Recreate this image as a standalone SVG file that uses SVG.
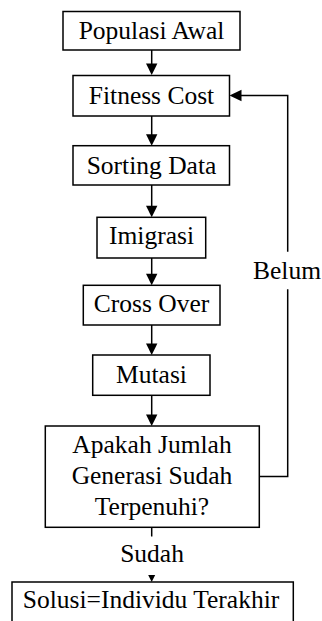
<svg xmlns="http://www.w3.org/2000/svg" width="322" height="621" viewBox="0 0 322 621">
<style>
.box{fill:#fff;stroke:#000;stroke-width:1.5}
.lbl{font-family:'Liberation Serif','Times New Roman',Tinos,serif;font-size:25.5px;fill:#000;text-anchor:middle}
.con{fill:none;stroke:#000;stroke-width:1.5}
.ah{fill:#000}
</style>
<g id="connectors">
<path class="con" d="M151.7,50 V64"/><path class="ah" d="M146,63.5 L157.4,63.5 L151.7,75 z"/>
<path class="con" d="M151.7,116 V135"/><path class="ah" d="M146,134.2 L157.4,134.2 L151.7,145.7 z"/>
<path class="con" d="M151.7,185 V206"/><path class="ah" d="M146,205.8 L157.4,205.8 L151.7,217.3 z"/>
<path class="con" d="M151.7,258 V274"/><path class="ah" d="M146,273.8 L157.4,273.8 L151.7,285.3 z"/>
<path class="con" d="M151.7,325 V344"/><path class="ah" d="M146,343.5 L157.4,343.5 L151.7,355 z"/>
<path class="con" d="M151.7,395.3 V415"/><path class="ah" d="M146,414.5 L157.4,414.5 L151.7,426 z"/>
<path class="con" d="M151.7,527.3 V536.5"/>
<path class="ah" d="M148.2,575 L155.2,575 L151.7,582 z"/>
<path class="con" d="M259.3,476.5 H287.7 V289.3"/>
<path class="con" d="M287.7,251.7 V95.5 H240"/><path class="ah" d="M241.5,89.8 L241.5,101.2 L229.5,95.5 z"/>
<text class="lbl" x="287" y="279">Belum</text>
<text class="lbl" x="152" y="561.7">Sudah</text>
</g>
<g id="n1"><rect class="box" x="63" y="11.5" width="177" height="38.5"/><text class="lbl" x="151.5" y="38.5">Populasi Awal</text></g>
<g id="n2"><rect class="box" x="73" y="75.5" width="156.5" height="40.5"/><text class="lbl" x="151.5" y="104">Fitness Cost</text></g>
<g id="n3"><rect class="box" x="73" y="145.7" width="156.5" height="39.3"/><text class="lbl" x="151.5" y="174">Sorting Data</text></g>
<g id="n4"><rect class="box" x="97" y="217.3" width="108.7" height="40.7"/><text class="lbl" x="151.5" y="244">Imigrasi</text></g>
<g id="n5"><rect class="box" x="83.3" y="285.3" width="136.7" height="39.7"/><text class="lbl" x="151.5" y="312.3">Cross Over</text></g>
<g id="n6"><rect class="box" x="92.7" y="355" width="117.3" height="40.3"/><text class="lbl" x="151.5" y="383.3">Mutasi</text></g>
<g id="n7"><rect class="box" x="45.3" y="426" width="214" height="101.3"/>
<text class="lbl" x="152" y="453.3">Apakah Jumlah</text>
<text class="lbl" x="152" y="484">Generasi Sudah</text>
<text class="lbl" x="152" y="515">Terpenuhi?</text></g>
<g id="n8"><rect class="box" x="12" y="582" width="281.3" height="60"/><text class="lbl" x="151" y="608.3">Solusi=Individu Terakhir</text></g>
</svg>
